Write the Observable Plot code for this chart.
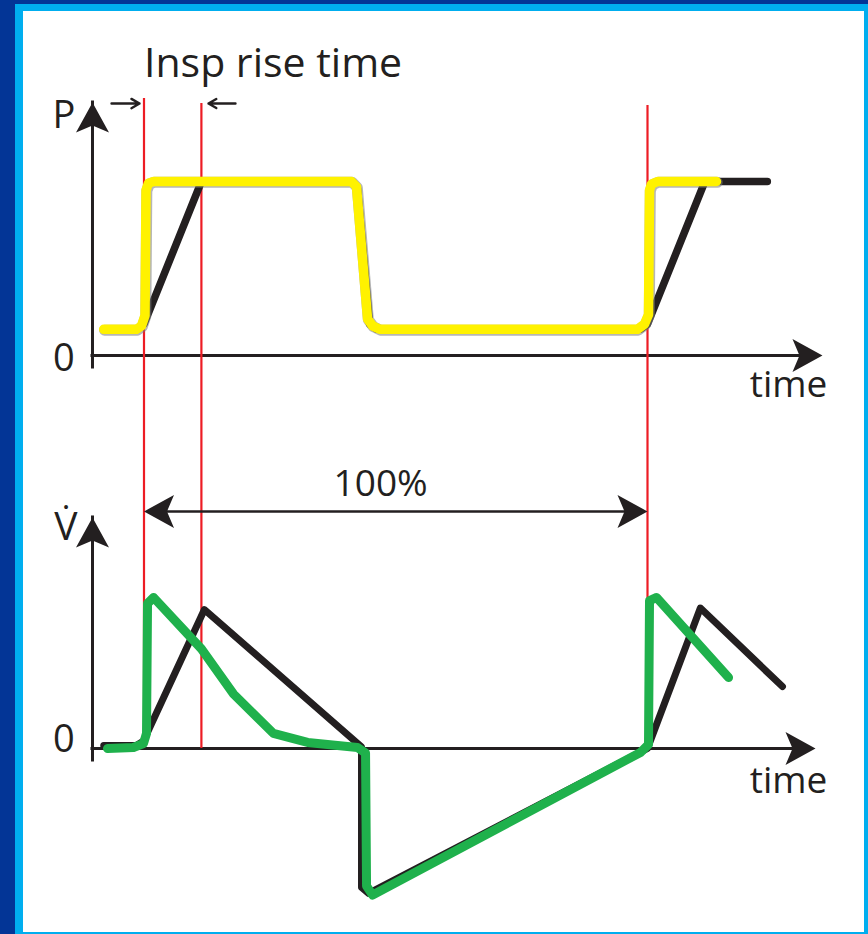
<!DOCTYPE html>
<html><head><meta charset="utf-8">
<script src="https://cdn.jsdelivr.net/npm/d3@7"></script>
<script src="https://cdn.jsdelivr.net/npm/@observablehq/plot@0.6"></script>
<style>
html,body{margin:0;padding:0;}
body{width:868px;height:934px;background:#033596;position:relative;overflow:hidden;font-family:"Open Sans",sans-serif;}
#frame{position:absolute;left:15px;top:4px;width:853px;height:930px;background:#00aeef;}
#panel{position:absolute;left:23px;top:11px;width:841px;height:921px;background:#ffffff;}
#chart{position:absolute;left:0;top:0;}
</style></head><body>
<div id="frame"></div><div id="panel"></div><div id="chart"></div>
<script>
// ---- data (time in % of breath cycle; P relative to plateau; flow relative to peak) ----
const pressureSetT = [-7.9, -1.3, 0, 11.4, 41.4, 42.4, 44.8, 46.2, 98.6, 100, 111.4, 123.8];
const pressureSetP = [0.15, 0.15, 0.18, 1, 1, 0.96, 0.18, 0.15, 0.15, 0.18, 1, 1];

const pressureActT = [-8.0, -1.5, -0.5, 0.2, 0.4, 0.9, 1.9, 41.2, 42.2, 44.4, 45.4, 46.8, 98.0, 99.4, 100.2, 100.4, 100.8, 102.0, 113.7];
const pressureActP = [0.15, 0.15, 0.17, 0.23, 0.95, 0.99, 1, 1, 0.97, 0.21, 0.17, 0.15, 0.15, 0.18, 0.235, 0.95, 0.985, 1, 1];

const flowSetT = [-8.0, -1.5, -0.1, 12.0, 43.2, 43.2, 44.6, 100, 110.5, 126.8];
const flowSetF = [0.02, 0.02, 0.05, 0.92, 0.01, -0.92, -0.96, 0, 0.93, 0.41];

const flowActT = [-7.25, -2.1, -0.1, 0.5, 0.7, 1.9, 11.4, 17.8, 25.7, 32.5, 42.4, 44.0, 44.2, 45.4, 98.6, 100.2, 100.4, 101.8, 116.1];
const flowActF = [0, 0.007, 0.033, 0.1, 0.96, 1.0, 0.66, 0.36, 0.1, 0.04, 0.007, -0.03, -0.91, -0.97, -0.026, 0.026, 0.98, 1.0, 0.47];

const markerT = [0, 11.4, 100];
const markerTopP = [1.477, 1.448, 1.437];

const axisT = -10.23;
const pAxisTopP = 1.454, pAxisEndT = 134.75;
const fAxisTopF = 1.53, fAxisEndT = 133.37;
const cycleF = 1.57, cycleStartT = 0, cycleEndT = 100;

const riseArrowFromT = [-6.45, 18.17];
const riseArrowToT = [-0.89, 12.81];
const riseArrowP = 1.448;

const titleLabel = {t: 0, P: 1.598, text: "Insp rise time"};
const pLabels = [
  {t: -15.9, P: 1.305, text: "P", size: 38},
  {t: -15.9, P: -0.092, text: "0", size: 38},
  {t: 128.0, P: -0.241, text: "time", size: 37}
];
const fLabels = [
  {t: -15.5, F: 1.384, text: "V\u0307", size: 39},
  {t: -15.9, F: -0.02, text: "0", size: 38},
  {t: 128.0, F: -0.298, text: "time", size: 37},
  {t: 47.0, F: 1.669, text: "100%", size: 37}
];

// ---- layout: pressure panel sits above the flow panel on the shared vertical scale ----
const P_BASE = 2.603, P_SPAN = 1.152;
const py = (p) => P_BASE + p * P_SPAN;

const INK = "#231f20";
const pressureSet = pressureSetT.map((t, i) => ({t, y: py(pressureSetP[i])}));
const pressureAct = pressureActT.map((t, i) => ({t, y: py(pressureActP[i])}));
const flowSet = flowSetT.map((t, i) => ({t, y: flowSetF[i]}));
const flowAct = flowActT.map((t, i) => ({t, y: flowActF[i]}));
const markers = markerT.map((t, i) => ({t, top: py(markerTopP[i])}));
const riseArrows = riseArrowFromT.map((t, i) => ({t1: t, t2: riseArrowToT[i], y: py(riseArrowP)}));
const labels = [
  ...pLabels.map(d => ({...d, y: py(d.P)})),
  ...fLabels.map(d => ({...d, y: d.F}))
];

function head(angle) {
  const a = angle * Math.PI / 180, c = Math.cos(a), s = Math.sin(a);
  const pts = [[0, 0], [16.5, 30], [0, 23], [-16.5, 30]].map(([x, y]) => [x * c - y * s, x * s + y * c]);
  return {draw(ctx) { ctx.moveTo(...pts[0]); for (let i = 1; i < pts.length; i++) ctx.lineTo(...pts[i]); ctx.closePath(); }};
}
const UP = head(0), RIGHT = head(90), LEFT = head(-90);

const vAxes = [{t: axisT, y1: py(0), y2: py(pAxisTopP)}, {t: axisT, y1: 0, y2: fAxisTopF}];
const hAxes = [{y: py(0), t1: axisT, t2: pAxisEndT}, {y: 0, t1: axisT, t2: fAxisEndT}];
const heads = [
  {t: axisT, y: py(pAxisTopP), s: UP},
  {t: pAxisEndT, y: py(0), s: RIGHT},
  {t: axisT, y: fAxisTopF, s: UP},
  {t: fAxisEndT, y: 0, s: RIGHT},
  {t: cycleStartT, y: cycleF, s: LEFT},
  {t: cycleEndT, y: cycleF, s: RIGHT}
];

const FONT = "'Open Sans', sans-serif";
const chart = Plot.plot({
  width: 868, height: 934, margin: 0,
  x: {domain: [0, 100], range: [143.5, 647], axis: null},
  y: {domain: [0, 1], range: [748, 597], axis: null},
  style: {background: "transparent", fontFamily: FONT, overflow: "visible"},
  marks: [
    Plot.ruleX(vAxes, {x: "t", y1: "y1", y2: "y2", stroke: INK, strokeWidth: 3, insetTop: 12, strokeLinecap: "square"}),
    Plot.ruleY(hAxes, {y: "y", x1: "t1", x2: "t2", stroke: INK, strokeWidth: 3, insetRight: 12, strokeLinecap: "square"}),
    Plot.ruleX(markers, {x: "t", y1: 0, y2: "top", stroke: "#ed1c24", strokeWidth: 2.2}),
    Plot.ruleY([{y: cycleF}], {y: "y", x1: cycleStartT, x2: cycleEndT, stroke: INK, strokeWidth: 2.6, insetLeft: 12, insetRight: 12}),
    Plot.arrow(riseArrows, {x1: "t1", x2: "t2", y1: "y", y2: "y", stroke: INK, strokeWidth: 2.4, headLength: 9}),
    Plot.line(pressureSet, {x: "t", y: "y", stroke: INK, strokeWidth: 7.5, strokeLinejoin: "round"}),
    Plot.line(pressureAct, {x: "t", y: "y", stroke: "#7a7a7a", strokeWidth: 11, strokeOpacity: 0.55, dx: 0.8, dy: 0.8, strokeLinejoin: "round"}),
    Plot.line(pressureAct, {x: "t", y: "y", stroke: "#fff200", strokeWidth: 9.5, strokeLinejoin: "round"}),
    Plot.line(flowSet, {x: "t", y: "y", stroke: INK, strokeWidth: 7, strokeLinejoin: "round"}),
    Plot.line(flowAct, {x: "t", y: "y", stroke: "#1fb14c", strokeWidth: 9, strokeLinejoin: "round"}),
    ...heads.map(h => Plot.dot([h], {x: "t", y: "y", symbol: h.s, fill: INK, stroke: "none"})),
    Plot.text(labels, {x: "t", y: "y", text: "text", fontSize: "size", textAnchor: "middle", lineAnchor: "bottom", fill: INK, fontFamily: FONT}),
    Plot.text([titleLabel], {x: "t", y: d => py(d.P), text: "text", fontSize: 41, textAnchor: "start", lineAnchor: "bottom", fill: INK, fontFamily: FONT})
  ]
});
document.getElementById("chart").appendChild(chart);
</script></body></html>
